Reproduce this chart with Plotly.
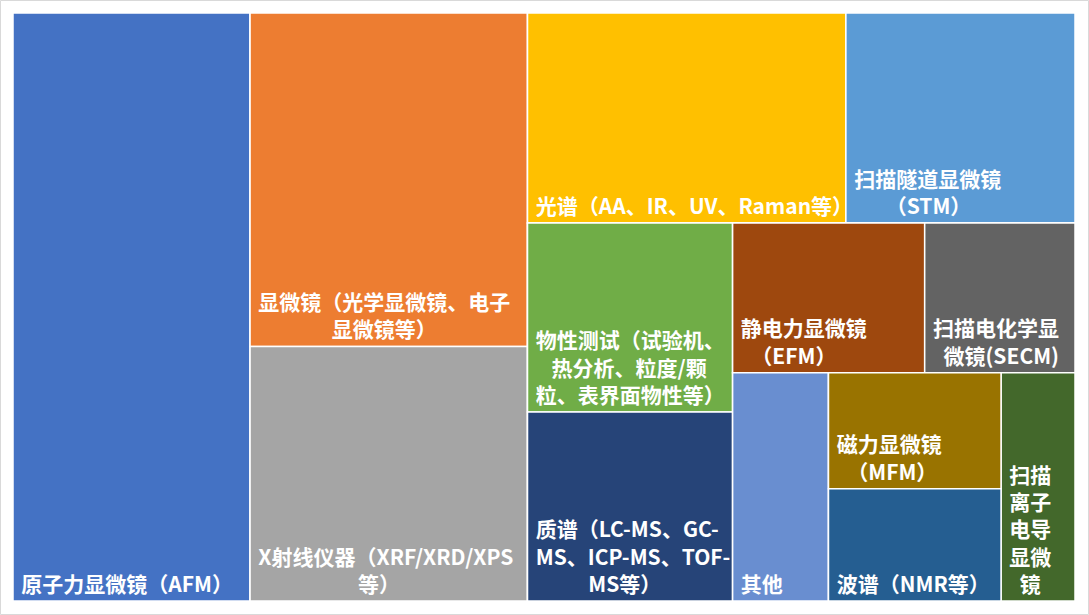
import plotly.graph_objects as go

# ---- data ----
categories = [
    "原子力显微镜（AFM）",
    "显微镜（光学显微镜、电子显微镜等）",
    "X射线仪器（XRF/XRD/XPS等）",
    "光谱（AA、IR、UV、Raman等）",
    "扫描隧道显微镜（STM）",
    "物性测试（试验机、热分析、粒度/颗粒、表界面物性等）",
    "质谱（LC-MS、GC-MS、ICP-MS、TOF-MS等）",
    "静电力显微镜（EFM）",
    "扫描电化学显微镜(SECM)",
    "其他",
    "磁力显微镜（MFM）",
    "波谱（NMR等）",
    "扫描离子电导显微镜",
]
values = [22.3, 14.8, 11.3, 10.7, 7.7, 6.2, 6.2, 4.6, 3.6, 3.5, 3.2, 3.1, 2.7]
label_lines = [
    ["原子力显微镜（AFM）"],
    ["显微镜（光学显微镜、电子", "显微镜等）"],
    ["X射线仪器（XRF/XRD/XPS", "等）"],
    ["光谱（AA、IR、UV、Raman等）"],
    ["扫描隧道显微镜", "（STM）"],
    ["物性测试（试验机、", "热分析、粒度/颗", "粒、表界面物性等）"],
    ["质谱（LC-MS、GC-", "MS、ICP-MS、TOF-", "MS等）"],
    ["静电力显微镜", "（EFM）"],
    ["扫描电化学显", "微镜(SECM)"],
    ["其他"],
    ["磁力显微镜", "（MFM）"],
    ["波谱（NMR等）"],
    ["扫描", "离子", "电导", "显微", "镜"],
]
colors = ["#4472C4", "#ED7D31", "#A5A5A5", "#FFC000", "#5B9BD5", "#70AD47",
          "#264478", "#9E480E", "#636363", "#698ED0", "#997300", "#255E91", "#43682B"]

# nesting of categories (indices) used to reproduce the slice/dice arrangement
layout_tree = [0, [1, 2], [[3, 4], [[5, 6], [[7, 8], [9, [10, 11], 12]]]]]

FONT_SIZE = 21


def char_em(c):
    if ord(c) > 0x2E80 or c in "（）、":
        return 1.0
    if c in "-()":
        return 0.33
    if c == "/":
        return 0.36
    if c == "I":
        return 0.3
    if c in "Mm":
        return 0.78
    return 0.58 if c.isupper() else 0.54


def line_em(s):
    return sum(char_em(c) for c in s)


def pad_str(em):
    full = int(em)
    rest = round((em - full) * 4) / 4
    s = "\u3000" * full
    if rest >= 1:
        s += "\u3000"
    elif rest >= 0.75:
        s += "\u2002\u2005"
    elif rest >= 0.5:
        s += "\u2002"
    elif rest >= 0.25:
        s += "\u2005"
    return s


def block_text(lines):
    widths = [line_em(l) for l in lines]
    m = max(widths)
    return "<br>".join("\u2005" + pad_str((m - w) / 2) + l for l, w in zip(lines, widths))


ids, parents, vals, cols, texts, labels = [], [], [], [], [], []


def walk(node, parent_id):
    if isinstance(node, int):
        ids.append(f"c{node}")
        labels.append(categories[node])
        parents.append(parent_id)
        vals.append(values[node])
        cols.append(colors[node])
        texts.append(block_text(label_lines[node]))
    else:
        gid = f"g{len(ids)}"
        ids.append(gid)
        labels.append(" ")
        parents.append(parent_id)
        vals.append(0)
        cols.append("#FFFFFF")
        texts.append("")
        for child in node:
            walk(child, gid)


for top in layout_tree:
    walk(top, "")

fig = go.Figure(go.Treemap(
    ids=ids,
    labels=labels,
    parents=parents,
    values=vals,
    branchvalues="remainder",
    sort=False,
    text=texts,
    texttemplate="%{text}",
    textposition="bottom left",
    textfont=dict(family="Noto Sans CJK SC", size=FONT_SIZE, color="white", weight="bold"),
    marker=dict(colors=cols, line=dict(color="white", width=1.5),
                pad=dict(t=0, l=0, r=0, b=0), depthfade=False),
    tiling=dict(packing="slice-dice", pad=0),
    pathbar=dict(visible=False),
    hoverinfo="label+value",
))

W, H = 1089, 615
ml, mr, mt, mb = 13, 14, 13, 14
pw, ph = W - ml - mr, H - mt - mb
fig.add_shape(type="rect", xref="paper", yref="paper",
              x0=(0.5 - ml) / pw, x1=(W - 0.5 - ml) / pw,
              y0=(H - mb - (H - 0.5)) / ph, y1=(H - mb - 0.5) / ph,
              line=dict(color="#D9D9D9", width=1))

fig.update_layout(
    width=W, height=H,
    margin=dict(l=ml, r=mr, t=mt, b=mb),
    paper_bgcolor="white",
    uniformtext=dict(minsize=FONT_SIZE, mode="show"),
    font=dict(family="Noto Sans CJK SC"),
)

fig.write_html("out.html", config={"displayModeBar": False},
               post_script="document.body.style.margin='0';")
